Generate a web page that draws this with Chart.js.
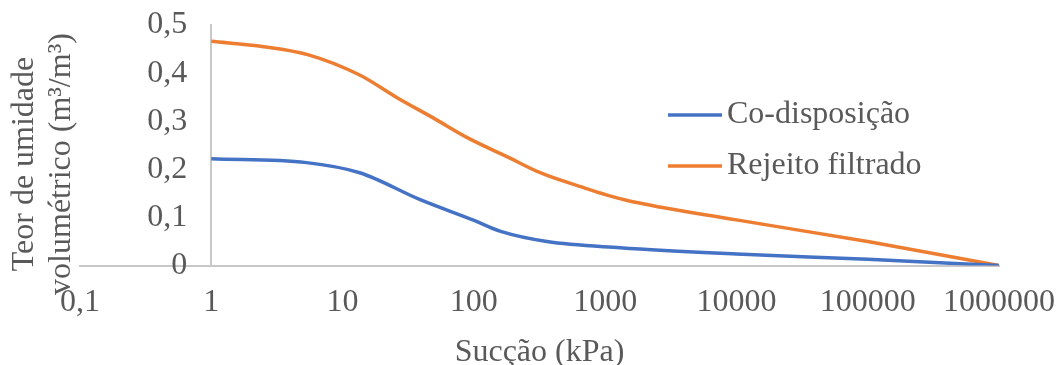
<!DOCTYPE html>
<html>
<head>
<meta charset="utf-8">
<script src="https://cdn.jsdelivr.net/npm/chart.js@4.4.0/dist/chart.umd.min.js"></script>
<style>
  html, body { margin: 0; padding: 0; background: #fff; }
  #wrap { width: 1060px; height: 365px; }
</style>
</head>
<body>
<div id="wrap"><canvas id="chart" width="1060" height="365"></canvas></div>
<script>
// DATA //

const seriesNames = ['Co-disposição', 'Rejeito filtrado'];
const seriesColors = ['#4472C4', '#ED7D31'];

const coDispSuction = [1, 5.3, 13.5, 39, 98, 160, 360, 1300, 10000, 100000, 1000000];
const coDispTheta = [0.222, 0.214, 0.193, 0.137, 0.095, 0.071, 0.050, 0.037, 0.024, 0.013, 0];

const rejeitoSuction = [1, 2.5, 5.5, 13.5, 26, 49, 89, 180, 320, 650, 1400, 10000, 100000, 1000000];
const rejeitoTheta = [0.466, 0.455, 0.438, 0.396, 0.349, 0.307, 0.266, 0.226, 0.193, 0.164, 0.137, 0.095, 0.050, 0];

const xTickValues = [0.1, 1, 10, 100, 1000, 10000, 100000, 1000000];
const xTickLabels = ['0,1', '1', '10', '100', '1000', '10000', '100000', '1000000'];
const yTickValues = [0, 0.1, 0.2, 0.3, 0.4, 0.5];
const yTickLabels = ['0', '0,1', '0,2', '0,3', '0,4', '0,5'];

const xTitle = 'Sucção (kPa)';
const yTitle = ['Teor de umidade', 'volumétrico (m³/m³)'];

// CHART //

const fontFamily = "'Liberation Serif', 'Times New Roman', serif";
const textColor = '#595959';
const axisColor = '#c8c8c8';

Chart.defaults.font.family = fontFamily;
Chart.defaults.font.size = 32;
Chart.defaults.color = textColor;

function toPoints(xs, ys) {
    return xs.map((x, i) => ({ x: x, y: ys[i] }));
}

// legend inside the plot area + rotated y title
const extrasPlugin = {
    id: 'extras',
    afterDraw(chart) {
        const ctx = chart.ctx;
        ctx.save();
        ctx.fillStyle = textColor;
        ctx.font = '32px ' + fontFamily;
        ctx.textBaseline = 'middle';

        chart.data.datasets.forEach((ds, i) => {
            const y = 115 + i * 51;
            ctx.strokeStyle = ds.borderColor;
            ctx.lineWidth = 3.5;
            ctx.beginPath();
            ctx.moveTo(668, y);
            ctx.lineTo(722, y);
            ctx.stroke();
            ctx.textAlign = 'left';
            ctx.fillText(ds.label, 727, y);
        });

        ctx.translate(0, 164);
        ctx.rotate(-Math.PI / 2);
        ctx.textAlign = 'center';
        yTitle.forEach((line, i) => {
            ctx.fillText(line, 0, 25 + i * 37);
        });
        ctx.restore();
    }
};

const chartCanvas = document.getElementById('chart');

const myChart = new Chart(chartCanvas, {
    type: 'line',
    data: {
        datasets: [{
            label: seriesNames[0],
            data: toPoints(coDispSuction, coDispTheta),
            borderColor: seriesColors[0],
            backgroundColor: seriesColors[0],
            borderWidth: 3.5,
            pointRadius: 0,
            cubicInterpolationMode: 'monotone'
        }, {
            label: seriesNames[1],
            data: toPoints(rejeitoSuction, rejeitoTheta),
            borderColor: seriesColors[1],
            backgroundColor: seriesColors[1],
            borderWidth: 3.5,
            pointRadius: 0,
            cubicInterpolationMode: 'monotone'
        }]
    },
    options: {
        responsive: false,
        animation: false,
        layout: {
            padding: { left: 80, right: 0, top: 0, bottom: 0 }
        },
        scales: {
            x: {
                type: 'logarithmic',
                min: 0.1,
                max: 1000000,
                afterBuildTicks: (axis) => {
                    axis.ticks = xTickValues.map(v => ({ value: v }));
                },
                afterFit: (axis) => {
                    axis.paddingLeft = 0;
                    axis.paddingRight = 61;
                },
                ticks: {
                    autoSkip: false,
                    maxRotation: 0,
                    padding: 18,
                    callback: (value, index) => xTickLabels[index]
                },
                grid: { display: false, drawTicks: false },
                border: { color: axisColor, width: 2 },
                title: {
                    display: true,
                    text: xTitle,
                    font: { size: 32, lineHeight: 0.75 },
                    padding: { top: 1, bottom: 0 }
                }
            },
            y: {
                type: 'linear',
                min: 0,
                max: 0.5,
                position: { x: 1 },
                afterBuildTicks: (axis) => {
                    axis.ticks = yTickValues.map(v => ({ value: v }));
                },
                afterFit: (axis) => {
                    axis.paddingTop = 25;
                    axis.paddingBottom = 0;
                },
                ticks: {
                    // labels at a data-positioned axis get no padding, so pad the text
                    callback: (value, index) => yTickLabels[index] + '   '
                },
                grid: { display: false, drawTicks: false },
                border: { color: axisColor, width: 2 }
            }
        },
        plugins: {
            legend: { display: false },
            tooltip: { enabled: false }
        }
    },
    plugins: [extrasPlugin]
});
</script>
</body>
</html>
